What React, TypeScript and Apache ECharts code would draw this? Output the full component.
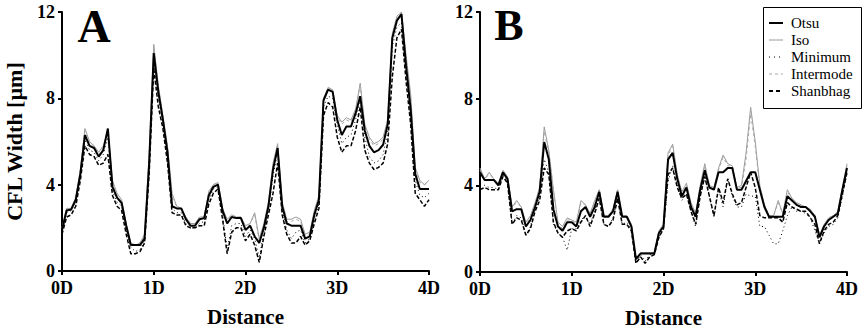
import React, { useEffect, useRef } from "react";
import * as echarts from "echarts";

const distance = [
  0, 0.05, 0.1, 0.15, 0.2, 0.25, 0.3, 0.35, 0.4, 0.45,
  0.5, 0.55, 0.6, 0.65, 0.7, 0.75, 0.8, 0.85, 0.9, 0.95,
  1, 1.05, 1.1, 1.15, 1.2, 1.25, 1.3, 1.35, 1.4, 1.45,
  1.5, 1.55, 1.6, 1.65, 1.7, 1.75, 1.8, 1.85, 1.9, 1.95,
  2, 2.05, 2.1, 2.15, 2.2, 2.25, 2.3, 2.35, 2.4, 2.45,
  2.5, 2.55, 2.6, 2.65, 2.7, 2.75, 2.8, 2.85, 2.9, 2.95,
  3, 3.05, 3.1, 3.15, 3.2, 3.25, 3.3, 3.35, 3.4, 3.45,
  3.5, 3.55, 3.6, 3.65, 3.7, 3.75, 3.8, 3.85, 3.9, 3.95,
  4,
];

const seriesNames = ["Otsu", "Iso", "Minimum", "Intermode", "Shanbhag"];
const xTicks = [0, 1, 2, 3, 4];
const yTicks = [0, 4, 8, 12];

// Panel A
const otsuA = [
  1.9, 2.8, 2.85, 3.3, 4.5, 6.3, 5.8, 5.7, 5.3, 5.6,
  6.6, 3.9, 3.4, 3.15, 2.1, 1.2, 1.2, 1.2, 1.5, 5.0,
  10.1, 8.3, 7.0, 5.5, 3.0, 2.9, 2.9, 2.4, 2.1, 2.1,
  2.4, 2.45, 3.5, 3.9, 4.0, 2.8, 2.2, 2.5, 2.45, 2.45,
  1.9, 2.1, 1.6, 1.3, 2.0, 3.0, 4.7, 5.7, 3.0, 2.2,
  2.1, 2.1, 2.1, 1.5, 1.6, 2.6, 3.3, 7.9, 8.4, 8.3,
  7.0, 6.3, 6.7, 6.7, 7.3, 8.1, 6.5, 5.8, 5.5, 5.6,
  5.85, 6.8, 10.8, 11.6, 11.9, 9.5, 7.5, 4.5, 3.8, 3.8,
  3.8,
];
const isoA = [
  2.0, 2.9, 2.9, 3.4, 4.7, 6.6, 6.0, 5.8, 5.5, 5.8,
  6.5, 4.2, 3.6, 3.3, 2.2, 1.3, 1.2, 1.3, 1.7, 5.4,
  10.5, 8.6, 7.2, 5.8, 3.6, 3.0, 2.9, 2.5, 2.2, 2.2,
  2.5, 2.5, 3.7, 4.0, 4.1, 2.9, 2.4, 2.6, 2.5, 2.5,
  2.1, 2.2, 2.7, 1.5, 2.2, 3.2, 5.0, 5.9, 3.2, 2.4,
  2.4, 2.5, 2.4, 1.7, 1.8, 2.8, 3.5, 8.0, 8.5, 8.4,
  7.2, 6.9, 7.1, 7.0, 7.5, 8.7, 6.8, 6.2, 5.9, 6.0,
  6.2, 7.0, 11.0, 11.8, 12.0, 10.0, 8.2, 4.8, 4.2, 4.0,
  4.2,
];
const minimumA = [
  1.8, 2.7, 2.8, 3.2, 4.4, 6.1, 5.6, 5.5, 5.1, 5.4,
  6.2, 3.7, 3.2, 3.0, 1.9, 1.1, 0.9, 1.0, 1.4, 4.8,
  9.8, 8.0, 6.8, 5.2, 2.9, 2.7, 2.7, 2.2, 2.0, 2.0,
  2.2, 2.3, 3.3, 3.8, 3.9, 2.6, 1.0, 2.1, 2.2, 2.2,
  1.6, 1.9, 1.5, 0.6, 1.8, 2.8, 4.4, 5.5, 2.8, 1.9,
  1.5, 1.8, 1.9, 1.3, 1.5, 2.4, 3.1, 7.6, 8.1, 8.0,
  6.8, 5.9, 6.2, 6.3, 7.0, 7.9, 6.2, 5.3, 5.0, 5.1,
  5.4, 6.4, 10.4, 11.3, 11.5, 9.2, 7.2, 4.2, 3.5, 3.4,
  3.6,
];
const intermodeA = [
  2.0, 2.9, 2.9, 3.4, 4.6, 6.5, 5.9, 5.8, 5.4, 5.7,
  6.5, 4.1, 3.5, 3.2, 2.2, 1.3, 1.2, 1.3, 1.6, 5.2,
  10.3, 8.5, 7.1, 5.7, 3.4, 3.0, 2.9, 2.5, 2.2, 2.2,
  2.5, 2.5, 3.6, 4.0, 4.1, 2.9, 2.3, 2.6, 2.5, 2.5,
  2.0, 2.2, 2.6, 1.4, 2.1, 3.1, 4.9, 5.8, 3.1, 2.3,
  2.3, 2.4, 2.3, 1.6, 1.7, 2.7, 3.4, 8.0, 8.5, 8.4,
  7.1, 6.8, 7.0, 6.9, 7.4, 8.6, 6.7, 6.1, 5.8, 5.9,
  6.1, 6.9, 10.9, 11.7, 11.9, 9.8, 8.0, 4.7, 4.1, 4.0,
  4.1,
];
const shanbhagA = [
  1.7, 2.5, 2.6, 3.0, 4.2, 5.8, 5.4, 5.3, 4.9, 5.0,
  5.4, 3.5, 3.0, 2.8, 1.7, 0.8, 0.8, 0.9, 1.3, 4.5,
  9.4, 7.6, 6.6, 5.0, 2.7, 2.6, 2.6, 2.1, 2.0, 2.0,
  2.1, 2.1, 3.1, 3.6, 3.8, 2.4, 0.8, 1.8, 2.0, 2.0,
  1.4, 1.7, 1.2, 0.4, 1.6, 2.6, 3.6, 5.0, 2.6, 1.7,
  1.3, 1.3, 1.6, 1.2, 1.4, 2.2, 2.9, 7.2, 7.8, 7.6,
  6.2, 5.5, 5.8, 5.8, 6.5, 7.6, 5.6, 5.0, 4.7, 4.8,
  5.0, 5.9, 9.0, 10.8, 11.2, 8.8, 6.8, 3.6, 3.3, 3.0,
  3.3,
];

// Panel B
const otsuB = [
  4.6, 4.25, 4.25, 4.25, 4.0, 4.6, 4.3, 2.8, 2.9, 2.9,
  2.1, 2.4, 3.0, 3.7, 6.0, 5.2, 2.9, 2.1, 1.9, 2.3,
  2.3, 2.1, 2.8, 3.0, 2.55, 3.0, 3.7, 2.55, 2.55, 2.8,
  3.7, 2.55, 2.55, 2.1, 0.6, 0.85, 0.85, 0.85, 0.85, 1.8,
  2.1, 5.2, 5.5, 4.3, 3.5, 3.9, 3.0, 2.55, 3.8, 4.7,
  3.9, 3.8, 4.6, 4.6, 4.8, 4.8, 3.8, 3.8, 4.2, 4.6,
  4.6, 3.8, 3.0, 2.55, 2.55, 2.55, 2.55, 3.5, 3.3, 3.1,
  3.0, 3.0, 2.8, 2.55, 1.6, 2.1, 2.4, 2.55, 2.7, 3.8,
  4.8,
];
const isoB = [
  4.8, 4.3, 4.6, 4.3, 4.1, 4.7, 4.4, 3.0, 3.3, 3.0,
  2.3, 2.6, 3.2, 3.9, 6.7, 5.6, 3.8, 2.3, 2.1, 2.5,
  2.4, 2.3, 3.3, 3.1, 2.7, 3.3, 3.8, 2.6, 2.6, 2.9,
  3.8, 2.6, 2.6, 2.2, 0.6, 0.9, 0.9, 0.9, 0.9, 1.9,
  2.2, 5.5, 5.9, 4.5, 3.7, 4.1, 3.2, 2.7, 4.0, 5.0,
  4.0, 3.9, 4.8, 5.4, 5.0, 4.9, 3.9, 4.0, 5.5, 7.6,
  6.0, 4.0, 3.1, 2.6, 2.6, 3.3, 2.7, 3.8, 3.4, 3.2,
  3.1, 3.0, 2.9, 2.6, 1.7, 2.2, 2.5, 2.6, 2.8, 3.9,
  5.0,
];
const minimumB = [
  4.0, 4.0, 3.9, 3.9, 3.8, 4.5, 4.2, 2.2, 2.6, 2.5,
  1.7, 2.1, 2.9, 3.5, 5.2, 4.6, 2.2, 1.8, 1.6, 1.0,
  2.0, 2.0, 2.4, 2.6, 2.2, 2.8, 3.5, 2.2, 2.1, 2.5,
  3.4, 2.2, 2.3, 2.0, 0.4, 0.8, 0.5, 0.8, 0.8, 1.6,
  2.0, 4.2, 4.9, 4.0, 3.3, 3.6, 2.8, 2.1, 3.5, 4.4,
  3.5, 2.5, 3.8, 3.0, 4.3, 3.5, 3.0, 3.0, 3.6, 3.5,
  3.5, 2.1, 2.1, 1.7, 1.3, 1.3, 1.9, 2.6, 3.0, 2.8,
  2.8, 2.7, 2.5, 1.9, 1.3, 1.8, 2.1, 2.2, 2.5, 3.5,
  4.6,
];
const intermodeB = [
  4.7, 4.3, 4.5, 4.3, 4.0, 4.6, 4.4, 3.0, 3.2, 3.0,
  2.2, 2.5, 3.1, 3.8, 6.5, 5.5, 3.8, 2.2, 2.0, 2.4,
  2.4, 2.2, 3.2, 3.1, 2.6, 3.2, 3.8, 2.6, 2.6, 2.9,
  3.8, 2.6, 2.6, 2.2, 0.6, 0.9, 0.9, 0.9, 0.9, 1.9,
  2.2, 5.4, 5.8, 4.5, 3.6, 4.0, 3.1, 2.6, 3.9, 4.9,
  3.9, 3.9, 4.7, 5.3, 4.9, 4.9, 3.9, 3.9, 5.2, 7.3,
  5.8, 3.9, 3.1, 2.6, 2.6, 3.2, 2.7, 3.7, 3.4, 3.1,
  3.0, 3.0, 2.8, 2.6, 1.7, 2.1, 2.5, 2.6, 2.8, 3.8,
  4.9,
];
const shanbhagB = [
  3.8, 3.9, 3.8, 3.8, 3.8, 4.4, 4.1, 2.2, 2.5, 2.4,
  1.7, 2.0, 2.8, 3.3, 4.8, 4.5, 2.3, 1.8, 1.6, 1.9,
  2.0, 1.9, 2.3, 2.6, 2.1, 2.7, 3.4, 2.2, 2.1, 2.4,
  3.4, 2.2, 2.2, 1.9, 0.4, 0.7, 0.4, 0.7, 0.8, 1.6,
  2.0, 4.5, 4.8, 3.9, 3.4, 3.6, 2.8, 2.2, 3.5, 4.4,
  3.5, 2.6, 3.9, 3.2, 4.3, 3.6, 3.1, 3.2, 3.9, 4.6,
  3.9, 2.6, 2.5, 2.5, 2.5, 2.5, 2.3, 3.2, 3.0, 2.9,
  2.8, 2.8, 2.5, 2.2, 1.3, 1.9, 2.2, 2.3, 2.6, 3.6,
  4.6,
];

const panelA = [otsuA, isoA, minimumA, intermodeA, shanbhagA];
const panelB = [otsuB, isoB, minimumB, intermodeB, shanbhagB];

const FONT = "'Liberation Serif', 'Times New Roman', serif";

const lineStyles: any[] = [
  { color: "#000", width: 2, type: "solid" },
  { color: "#9a9a9a", width: 1, type: "solid" },
  { color: "#000", width: 1, type: [1, 3] },
  { color: "#a8a8a8", width: 1, type: [3, 3] },
  { color: "#000", width: 1.5, type: [4, 2] },
];

const legendDash: (number[] | null)[] = [null, null, [1, 4], [3, 3], [4, 3]];

function makeXAxis(gridIndex: number) {
  return {
    type: "value",
    gridIndex,
    min: xTicks[0],
    max: xTicks[xTicks.length - 1],
    interval: 1,
    name: "Distance",
    nameLocation: "middle",
    nameGap: 35,
    nameTextStyle: { fontFamily: FONT, fontWeight: "bold", fontSize: 21, color: "#000" },
    axisLine: { show: true, lineStyle: { color: "#000", width: 2 } },
    axisTick: { show: true, length: 4, lineStyle: { color: "#000", width: 2 } },
    splitLine: { show: false },
    axisLabel: {
      fontFamily: FONT,
      fontWeight: "bold",
      fontSize: 18,
      color: "#000",
      margin: 8,
      formatter: (v: number) => `${v}D`,
    },
  };
}

function makeYAxis(gridIndex: number, withName: boolean) {
  return {
    type: "value",
    gridIndex,
    min: yTicks[0],
    max: yTicks[yTicks.length - 1],
    interval: 4,
    name: withName ? "CFL Width [µm]" : "",
    nameLocation: "middle",
    nameGap: 37,
    nameTextStyle: { fontFamily: FONT, fontWeight: "bold", fontSize: 22, color: "#000" },
    axisLine: { show: true, lineStyle: { color: "#000", width: 2 } },
    axisTick: { show: true, length: 4, lineStyle: { color: "#000", width: 2 } },
    splitLine: { show: false },
    axisLabel: {
      fontFamily: FONT,
      fontWeight: "bold",
      fontSize: 18,
      color: "#000",
      margin: 7,
    },
  };
}

export default function App() {
  const ref = useRef<HTMLDivElement>(null);

  useEffect(() => {
    if (!ref.current) return;
    const chart = echarts.init(ref.current, null, { renderer: "svg" });

    const series: any[] = [];
    [panelA, panelB].forEach((panel, pi) => {
      panel.forEach((vals, si) => {
        series.push({
          name: seriesNames[si],
          type: "line",
          xAxisIndex: pi,
          yAxisIndex: pi,
          symbol: "none",
          showSymbol: false,
          silent: true,
          lineStyle: lineStyles[si],
          itemStyle: { color: lineStyles[si].color },
          data: vals.map((v, i) => [distance[i], v]),
          z: si === 0 ? 3 : 2,
        });
      });
    });

    // legend drawn as graphic elements
    const legendRowsY = [23, 40, 57, 74, 91];
    const legendEls: any[] = [
      {
        type: "rect",
        shape: { x: 763.5, y: 7.5, width: 98, height: 101 },
        style: { fill: "#fff", stroke: "#000", lineWidth: 1 },
        z: 10,
      },
    ];
    seriesNames.forEach((name, i) => {
      const ls = lineStyles[i];
      legendEls.push({
        type: "line",
        shape: { x1: 769, y1: legendRowsY[i], x2: 783, y2: legendRowsY[i] },
        style: {
          stroke: ls.color,
          lineWidth: i === 0 ? 2 : i === 4 ? 2 : 1,
          lineDash: legendDash[i] || undefined,
        },
        z: 11,
      });
      legendEls.push({
        type: "text",
        x: 791,
        y: legendRowsY[i],
        style: {
          text: name,
          fontFamily: FONT,
          fontSize: 15,
          fill: "#000",
          align: "left",
          verticalAlign: "middle",
        },
        z: 11,
      });
    });

    chart.setOption({
      animation: false,
      backgroundColor: "#fff",
      grid: [
        { left: 62, top: 12, width: 367, height: 259, containLabel: false, outerBoundsMode: "none" },
        { left: 480, top: 12, width: 367, height: 260, containLabel: false, outerBoundsMode: "none" },
      ],
      xAxis: [makeXAxis(0), makeXAxis(1)],
      yAxis: [makeYAxis(0, true), makeYAxis(1, false)],
      graphic: [
        {
          type: "text",
          x: 94,
          y: 26,
          style: {
            text: "A",
            fontFamily: FONT,
            fontWeight: "bold",
            fontSize: 46,
            fill: "#000",
            align: "center",
            verticalAlign: "middle",
          },
        },
        {
          type: "text",
          x: 509,
          y: 25,
          style: {
            text: "B",
            fontFamily: FONT,
            fontWeight: "bold",
            fontSize: 44,
            fill: "#000",
            align: "center",
            verticalAlign: "middle",
          },
        },
        ...legendEls,
      ],
      series,
    });

    return () => chart.dispose();
  }, []);

  return (
    <div
      ref={ref}
      style={{ position: "absolute", left: 0, top: 0, width: 866, height: 331 }}
    />
  );
}
